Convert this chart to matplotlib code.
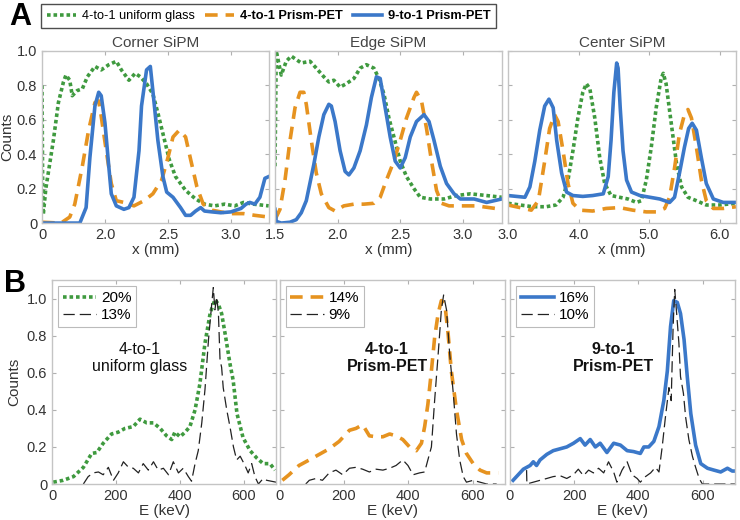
import matplotlib.pyplot as plt

plt.rcParams['font.family'] = ['Liberation Sans', 'DejaVu Sans']

GREEN = '#3f9a3f'
ORANGE = '#e69320'
BLUE = '#3b78c9'

# ---- A: flood profiles (x in mm, counts normalised) ----
corner_blue_x = [1.50, 1.80, 1.85, 1.88, 1.92, 1.95, 1.97, 2.00, 2.03, 2.05, 2.09, 2.15, 2.19, 2.23,
                 2.27, 2.29, 2.33, 2.36, 2.38, 2.42, 2.46, 2.49, 2.54, 2.60, 2.64, 2.68, 2.72, 2.76,
                 2.79, 2.85, 2.92, 3.00, 3.08, 3.12, 3.15, 3.19, 3.23, 3.27, 3.30]
corner_blue_y = [0.0, 0.0, 0.09, 0.38, 0.68, 0.76, 0.74, 0.58, 0.33, 0.17, 0.10, 0.08, 0.09, 0.15,
                 0.42, 0.68, 0.89, 0.91, 0.77, 0.48, 0.27, 0.18, 0.15, 0.09, 0.045, 0.045, 0.07, 0.09,
                 0.07, 0.065, 0.06, 0.065, 0.085, 0.11, 0.12, 0.11, 0.15, 0.26, 0.27]
corner_green_x = [1.50, 1.505, 1.51, 1.53, 1.59, 1.63, 1.67, 1.69, 1.72, 1.74, 1.78, 1.82, 1.86, 1.92,
                  1.97, 2.03, 2.09, 2.13, 2.19, 2.24, 2.28, 2.33, 2.38, 2.42, 2.46, 2.51, 2.56, 2.64,
                  2.72, 2.79, 2.87, 2.95, 3.03, 3.10, 3.18, 3.30]
corner_green_y = [0.80, 0.19, 0.05, 0.20, 0.48, 0.70, 0.82, 0.86, 0.83, 0.74, 0.77, 0.78, 0.85, 0.91,
                  0.89, 0.92, 0.94, 0.89, 0.83, 0.87, 0.85, 0.81, 0.75, 0.64, 0.52, 0.37, 0.27, 0.19,
                  0.14, 0.11, 0.10, 0.11, 0.10, 0.12, 0.11, 0.10]
corner_orange_x = [1.50, 1.65, 1.72, 1.76, 1.82, 1.87, 1.92, 1.95, 1.97, 2.01, 2.05, 2.09, 2.15, 2.23,
                   2.31, 2.38, 2.45, 2.50, 2.54, 2.59, 2.64, 2.68, 2.73, 2.78, 2.85, 2.92, 3.00, 3.10,
                   3.19, 3.30]
corner_orange_y = [0.005, 0.0, 0.035, 0.11, 0.33, 0.54, 0.70, 0.71, 0.62, 0.42, 0.23, 0.13, 0.12, 0.10,
                   0.13, 0.17, 0.25, 0.38, 0.50, 0.54, 0.50, 0.37, 0.21, 0.11, 0.075, 0.065, 0.055, 0.055,
                   0.045, 0.035]

edge_green_x = [1.50, 1.505, 1.51, 1.55, 1.59, 1.63, 1.67, 1.71, 1.78, 1.83, 1.89, 1.93, 1.97, 2.02,
                2.07, 2.13, 2.18, 2.23, 2.29, 2.33, 2.37, 2.41, 2.45, 2.50, 2.55, 2.61, 2.66, 2.74,
                2.85, 2.95, 3.06, 3.19, 3.31]
edge_green_y = [0.33, 0.65, 1.0, 0.86, 0.94, 0.97, 0.95, 0.93, 0.94, 0.90, 0.85, 0.82, 0.83, 0.79,
                0.81, 0.84, 0.90, 0.92, 0.90, 0.84, 0.75, 0.61, 0.50, 0.36, 0.27, 0.20, 0.15, 0.14,
                0.14, 0.16, 0.17, 0.16, 0.15]
edge_blue_x = [1.50, 1.51, 1.55, 1.62, 1.67, 1.71, 1.75, 1.81, 1.85, 1.89, 1.93, 1.95, 1.98, 2.02,
               2.06, 2.09, 2.13, 2.18, 2.23, 2.27, 2.31, 2.34, 2.38, 2.42, 2.46, 2.50, 2.54, 2.58,
               2.63, 2.69, 2.73, 2.77, 2.82, 2.87, 2.93, 2.98, 3.09, 3.19, 3.31]
edge_blue_y = [0.08, 0.01, 0.0, 0.005, 0.02, 0.06, 0.13, 0.34, 0.50, 0.63, 0.69, 0.68, 0.59, 0.42,
               0.30, 0.28, 0.32, 0.42, 0.57, 0.73, 0.85, 0.84, 0.67, 0.50, 0.36, 0.32, 0.38, 0.50,
               0.59, 0.63, 0.59, 0.48, 0.33, 0.23, 0.17, 0.14, 0.14, 0.12, 0.14]
edge_orange_x = [1.50, 1.54, 1.58, 1.62, 1.66, 1.70, 1.73, 1.75, 1.79, 1.83, 1.87, 1.93, 1.98, 2.05,
                 2.13, 2.21, 2.29, 2.34, 2.39, 2.45, 2.50, 2.55, 2.61, 2.63, 2.67, 2.71, 2.75, 2.79,
                 2.83, 2.89, 2.98, 3.11, 3.21, 3.31]
edge_orange_y = [0.02, 0.08, 0.25, 0.48, 0.67, 0.76, 0.76, 0.69, 0.48, 0.29, 0.17, 0.09, 0.07, 0.10,
                 0.11, 0.11, 0.115, 0.15, 0.25, 0.36, 0.48, 0.61, 0.73, 0.76, 0.71, 0.55, 0.36, 0.19,
                 0.115, 0.10, 0.10, 0.10, 0.09, 0.08]

center_blue_x = [3.00, 3.12, 3.24, 3.31, 3.38, 3.45, 3.52, 3.58, 3.64, 3.69, 3.76, 3.83, 3.92, 4.06,
                 4.20, 4.35, 4.42, 4.46, 4.50, 4.54, 4.56, 4.59, 4.63, 4.68, 4.75, 4.87, 5.01, 5.15,
                 5.29, 5.36, 5.43, 5.50, 5.56, 5.61, 5.67, 5.74, 5.81, 5.91, 6.05, 6.23]
center_blue_y = [0.16, 0.155, 0.15, 0.21, 0.36, 0.54, 0.68, 0.72, 0.67, 0.48, 0.29, 0.18, 0.16, 0.155,
                 0.16, 0.17, 0.27, 0.48, 0.76, 0.93, 0.90, 0.67, 0.42, 0.25, 0.18, 0.16, 0.15, 0.14,
                 0.12, 0.15, 0.29, 0.44, 0.55, 0.58, 0.54, 0.38, 0.23, 0.14, 0.12, 0.12]
center_green_x = [3.00, 3.17, 3.35, 3.54, 3.68, 3.78, 3.85, 3.92, 3.99, 4.06, 4.11, 4.16, 4.23, 4.30,
                  4.37, 4.46, 4.58, 4.70, 4.82, 4.89, 4.96, 5.03, 5.10, 5.17, 5.20, 5.24, 5.31, 5.39,
                  5.46, 5.55, 5.67, 5.81, 6.00, 6.23]
center_green_y = [0.115, 0.105, 0.095, 0.095, 0.105, 0.15, 0.25, 0.42, 0.61, 0.76, 0.81, 0.78, 0.61, 0.38,
                  0.23, 0.16, 0.15, 0.14, 0.12, 0.13, 0.25, 0.44, 0.67, 0.84, 0.87, 0.81, 0.59, 0.34,
                  0.21, 0.15, 0.13, 0.105, 0.105, 0.115]
center_orange_x = [3.00, 3.17, 3.33, 3.43, 3.52, 3.59, 3.66, 3.71, 3.78, 3.85, 3.92, 4.02, 4.20, 4.39,
                   4.58, 4.77, 4.96, 5.10, 5.22, 5.29, 5.36, 5.43, 5.50, 5.55, 5.60, 5.67, 5.74, 5.81,
                   5.91, 6.05, 6.23]
center_orange_y = [0.105, 0.09, 0.075, 0.13, 0.36, 0.55, 0.63, 0.59, 0.42, 0.23, 0.115, 0.075, 0.07, 0.085,
                   0.09, 0.075, 0.065, 0.065, 0.085, 0.15, 0.32, 0.52, 0.63, 0.66, 0.61, 0.44, 0.25, 0.13,
                   0.085, 0.085, 0.095]

# ---- B: energy spectra (keV) ----
glass_E = [4, 35, 67, 98, 124, 140, 160, 186, 207, 228, 254, 275, 296, 317, 338, 358, 374, 384, 400,
           416, 431, 447, 462, 478, 494, 509, 520, 530, 541, 556, 566, 578, 597, 619, 640, 660, 681, 697]
glass_y = [0.01, 0.02, 0.04, 0.09, 0.165, 0.17, 0.22, 0.27, 0.28, 0.30, 0.31, 0.35, 0.33, 0.33, 0.30,
           0.26, 0.24, 0.28, 0.255, 0.28, 0.31, 0.40, 0.54, 0.76, 0.92, 0.995, 0.97, 0.92, 0.81, 0.65,
           0.56, 0.38, 0.25, 0.18, 0.14, 0.11, 0.11, 0.075]
glass_ref_E = [98, 113, 129, 145, 160, 176, 192, 207, 223, 239, 254, 270, 285, 301, 317, 332, 348, 364,
               379, 395, 410, 426, 436, 447, 457, 468, 478, 489, 499, 504, 509, 515, 520, 525, 530, 535,
               546, 556, 567, 577, 588, 603, 613, 624, 634, 645, 660, 671, 700]
glass_ref_y = [0.0, 0.04, 0.06, 0.065, 0.05, 0.09, 0.02, 0.06, 0.12, 0.09, 0.085, 0.06, 0.11, 0.075, 0.12,
               0.075, 0.085, 0.05, 0.12, 0.06, 0.085, 0.04, 0.015, 0.11, 0.18, 0.33, 0.51, 0.78, 0.97,
               1.06, 0.94, 1.01, 0.92, 0.67, 0.63, 0.52, 0.40, 0.31, 0.20, 0.13, 0.15, 0.10, 0.06, 0.11,
               0.04, 0.0, 0.03, 0.02, 0.01]

prism4_E = [8, 29, 60, 92, 123, 154, 185, 217, 237, 258, 279, 300, 321, 342, 362, 383, 404, 425, 441,
            451, 461, 472, 482, 493, 503, 514, 524, 534, 550, 566, 581, 602, 623, 644, 665, 680]
prism4_y = [0.02, 0.05, 0.10, 0.13, 0.16, 0.19, 0.23, 0.29, 0.30, 0.32, 0.26, 0.255, 0.255, 0.27, 0.26,
            0.24, 0.20, 0.18, 0.22, 0.31, 0.43, 0.61, 0.79, 0.92, 0.99, 0.97, 0.81, 0.61, 0.40, 0.24,
            0.165, 0.11, 0.075, 0.06, 0.06, 0.06]
prism4_ref_E = [81, 92, 113, 133, 154, 175, 196, 217, 237, 258, 279, 300, 321, 342, 362, 383, 399, 415,
                435, 451, 461, 472, 482, 493, 503, 510, 519, 529, 540, 550, 560, 571, 581, 602, 623,
                644, 675]
prism4_ref_y = [0.0, 0.02, 0.03, 0.02, 0.06, 0.075, 0.05, 0.085, 0.09, 0.08, 0.065, 0.08, 0.075, 0.085,
                0.10, 0.13, 0.10, 0.05, 0.06, 0.065, 0.13, 0.20, 0.45, 0.70, 0.94, 1.02, 0.94, 0.70,
                0.49, 0.27, 0.13, 0.04, 0.01, 0.02, 0.01, 0.0, 0.0]

prism9_E = [10, 26, 42, 63, 73, 83, 94, 115, 135, 156, 177, 198, 219, 234, 250, 266, 281, 302, 323, 344,
            365, 385, 406, 417, 432, 448, 464, 479, 490, 500, 510, 521, 531, 542, 552, 563, 578, 594,
            615, 635, 656, 677, 692, 703]
prism9_y = [0.02, 0.05, 0.08, 0.10, 0.12, 0.10, 0.13, 0.16, 0.18, 0.19, 0.20, 0.22, 0.245, 0.21, 0.24,
            0.20, 0.22, 0.17, 0.22, 0.21, 0.18, 0.175, 0.165, 0.20, 0.20, 0.23, 0.31, 0.45, 0.61, 0.85,
            0.99, 0.98, 0.92, 0.78, 0.58, 0.38, 0.21, 0.11, 0.085, 0.075, 0.065, 0.085, 0.07, 0.07]
prism9_ref_E = [52, 53, 73, 94, 115, 135, 156, 177, 198, 213, 229, 245, 260, 276, 292, 307, 323, 333,
                349, 365, 380, 396, 406, 422, 438, 453, 464, 474, 484, 495, 502, 508, 513, 519, 526,
                531, 540, 547, 557, 568, 578, 589, 599, 703]
prism9_ref_y = [0.075, 0.0, 0.01, 0.02, 0.03, 0.04, 0.045, 0.03, 0.05, 0.08, 0.045, 0.075, 0.06, 0.085,
                0.06, 0.12, 0.065, 0.01, 0.075, 0.12, 0.05, 0.03, 0.01, 0.04, 0.06, 0.09, 0.065, 0.20,
                0.36, 0.52, 0.45, 0.85, 1.05, 0.92, 0.76, 0.58, 0.49, 0.36, 0.24, 0.15, 0.09, 0.03, 0.0,
                0.0]

top_titles = ['Corner SiPM', 'Edge SiPM', 'Center SiPM']
top_xlims = [(1.5, 3.3), (1.5, 3.31), (3.0, 6.23)]
top_xticks = [[1.5, 2.0, 2.5, 3.0], [1.5, 2.0, 2.5, 3.0], [3.0, 4.0, 5.0, 6.0]]
top_xticklabels = [['0', '2.0', '2.5', '3.0'], ['1.5', '2.0', '2.5', '3.0'], ['3.0', '4.0', '5.0', '6.0']]
yticks = [0, 0.2, 0.4, 0.6, 0.8, 1.0]
yticklabels = ['0', '0.2', '0.4', '0.6', '0.8', '1.0']

legend_names = ['4-to-1 uniform glass', '4-to-1 Prism-PET', '9-to-1 Prism-PET']
fwhm_labels = [('20%', '13%'), ('14%', '9%'), ('16%', '10%')]
panel_names = ['4-to-1\nuniform glass', '4-to-1\nPrism-PET', '9-to-1\nPrism-PET']

green_style = dict(color=GREEN, lw=2.6, ls=(0, (1, 0.8)))
orange_style = dict(color=ORANGE, lw=2.6, ls=(0, (3.5, 2.2)))
blue_style = dict(color=BLUE, lw=2.6, ls='-')
ref_style = dict(color='#222222', lw=0.9, ls=(0, (9, 4)))


def style_axes(ax):
    for s in ax.spines.values():
        s.set_color('#c4c4c4')
        s.set_linewidth(1.0)
    ax.tick_params(direction='in', length=3, color='#b0b0b0', labelcolor='#333333',
                   labelsize=10.5, top=True, right=True)


fig = plt.figure(figsize=(7.4, 5.2), dpi=100)

top_lefts = [0.0568, 0.3716, 0.6865]
top_widths = [0.3063, 0.3063, 0.308]
top_data = [
    (corner_green_x, corner_green_y, corner_orange_x, corner_orange_y, corner_blue_x, corner_blue_y),
    (edge_green_x, edge_green_y, edge_orange_x, edge_orange_y, edge_blue_x, edge_blue_y),
    (center_green_x, center_green_y, center_orange_x, center_orange_y, center_blue_x, center_blue_y),
]
handles = []
for i in range(3):
    ax = fig.add_axes([top_lefts[i], 0.571, top_widths[i], 0.331])
    gx, gy, ox, oy, bx, by = top_data[i]
    h1, = ax.plot(gx, gy, **green_style)
    h2, = ax.plot(ox, oy, **orange_style)
    h3, = ax.plot(bx, by, **blue_style)
    if i == 0:
        handles = [h1, h2, h3]
    ax.set_xlim(*top_xlims[i])
    ax.set_ylim(0, 1.0)
    ax.set_xticks(top_xticks[i])
    ax.set_xticklabels(top_xticklabels[i])
    ax.set_yticks(yticks)
    if i == 0:
        ax.set_yticklabels(yticklabels)
        ax.set_ylabel('Counts', fontsize=11, color='#333333', labelpad=2)
    else:
        ax.set_yticklabels([])
    ax.set_xlabel('x (mm)', fontsize=11, color='#333333', labelpad=1)
    ax.set_title(top_titles[i], fontsize=11, color='#444444', pad=3)
    style_axes(ax)

leg = fig.legend(handles, legend_names, loc='center', bbox_to_anchor=(0.363, 0.969), ncol=3,
                 frameon=True, fancybox=False, edgecolor='#222222', fontsize=9.2,
                 handlelength=2.3, columnspacing=0.8, handletextpad=0.45, borderpad=0.45)
leg.get_frame().set_linewidth(1.0)
for t in leg.get_texts()[1:]:
    t.set_fontweight('bold')

bot_lefts = [0.0703, 0.378, 0.689]
bot_widths = [0.3027, 0.304, 0.304]
bot_data = [
    (glass_E, glass_y, green_style, glass_ref_E, glass_ref_y),
    (prism4_E, prism4_y, orange_style, prism4_ref_E, prism4_ref_y),
    (prism9_E, prism9_y, blue_style, prism9_ref_E, prism9_ref_y),
]
name_pos = [(275, 0.68), (334, 0.68), (322, 0.68)]
for i in range(3):
    ax = fig.add_axes([bot_lefts[i], 0.0692, bot_widths[i], 0.392])
    e, y, st, re, ry = bot_data[i]
    ax.plot(e, y, label=fwhm_labels[i][0], **st)
    ax.plot(re, ry, label=fwhm_labels[i][1], **ref_style)
    ax.set_xlim(0, 700)
    ax.set_ylim(0, 1.1)
    ax.set_xticks([0, 200, 400, 600])
    ax.set_yticks(yticks)
    if i == 0:
        ax.set_yticklabels(yticklabels)
        ax.set_ylabel('Counts', fontsize=11, color='#333333', labelpad=4)
    else:
        ax.set_yticklabels([])
    ax.set_xlabel('E (keV)', fontsize=11, color='#333333', labelpad=1)
    lg = ax.legend(loc='upper left', fontsize=11, frameon=True, fancybox=False,
                   edgecolor='#aaaaaa', handlelength=2.2, handletextpad=0.3,
                   borderpad=0.3, labelspacing=0.2, borderaxespad=0.4)
    lg.get_frame().set_linewidth(0.8)
    ax.text(name_pos[i][0], name_pos[i][1], panel_names[i], ha='center', va='center',
            fontsize=11.5, color='#111111', fontweight='normal' if i == 0 else 'bold',
            linespacing=1.15)
    style_axes(ax)

fig.text(0.012, 0.968, 'A', fontsize=22, fontweight='bold', va='center')
fig.text(0.005, 0.453, 'B', fontsize=22, fontweight='bold', va='center')

fig.savefig('out.png', dpi=100)
